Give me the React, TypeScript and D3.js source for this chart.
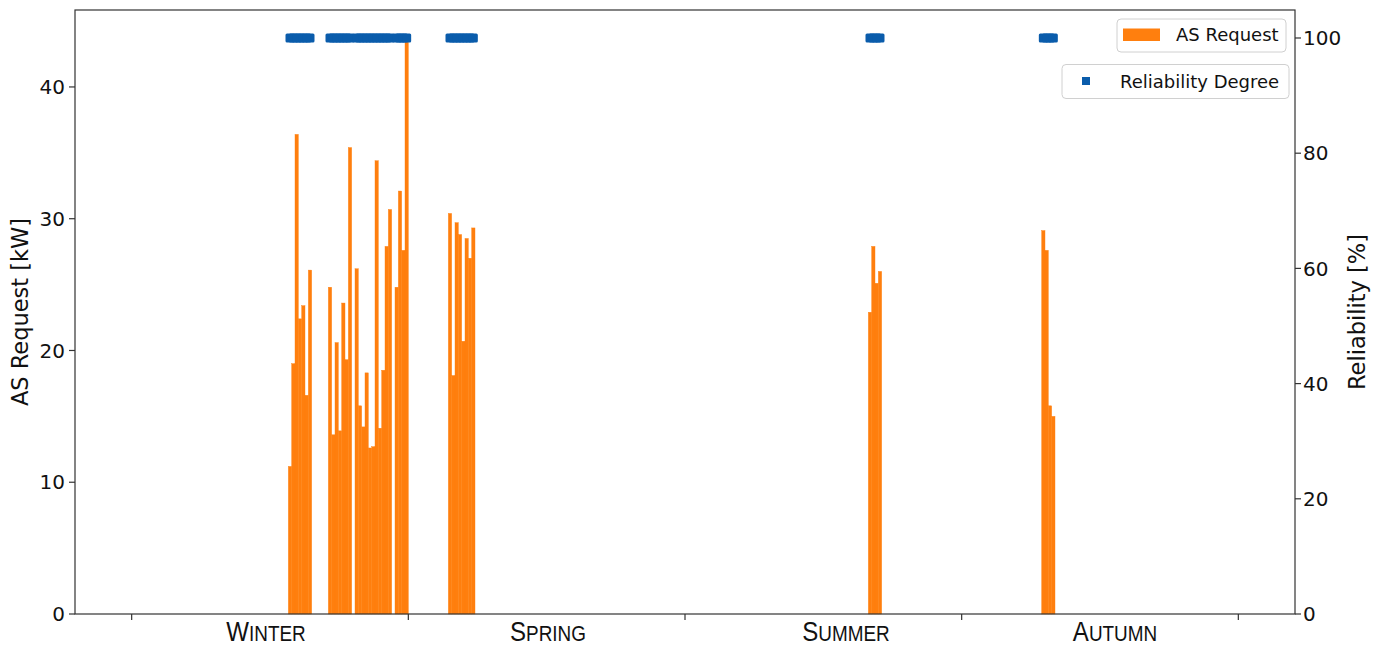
import React, { useEffect, useRef } from 'react';
import * as d3 from 'd3';

// x axis is day of year, bars are one day wide
const winterDays = [64, 65, 66, 67, 68, 69, 70, 76, 77, 78, 79, 80, 81, 82, 84, 85, 86, 87, 88, 89, 90, 91, 92, 93, 94, 96, 97, 98, 99];
const winterKW = [11.2, 19.0, 36.4, 22.4, 23.4, 16.6, 26.1, 24.8, 13.6, 20.6, 13.9, 23.6, 19.3, 35.4, 26.2, 15.8, 14.2, 18.3, 12.6, 12.7, 34.4, 14.1, 18.5, 27.9, 30.7, 24.8, 32.1, 27.6, 43.5];
const springDays = [112, 113, 114, 115, 116, 117, 118, 119];
const springKW = [30.4, 18.1, 29.7, 28.8, 20.7, 28.5, 27.0, 29.3];
const summerDays = [238, 239, 240, 241];
const summerKW = [22.9, 27.9, 25.1, 26.0];
const autumnDays = [290, 291, 292, 293];
const autumnKW = [29.1, 27.6, 15.8, 15.0];

const winterRel = [100, 100, 100, 100, 100, 100, 100, 100, 100, 100, 100, 100, 100, 100, 100, 100, 100, 100, 100, 100, 100, 100, 100, 100, 100, 100, 100, 100, 100];
const springRel = [100, 100, 100, 100, 100, 100, 100, 100];
const summerRel = [100, 100, 100, 100];
const autumnRel = [100, 100, 100, 100];

const seasonTicks = [17, 100, 183, 266, 349];
const seasonNames = ['Winter', 'Spring', 'Summer', 'Autumn'];
const seasonLabelPos = [57.3, 141.9, 231.3, 312];
const leftTicks = [0, 10, 20, 30, 40];
const rightTicks = [0, 20, 40, 60, 80, 100];

const ORANGE = '#ff7f0e';
const BLUE = '#0a5cab';
const FONT = '"DejaVu Sans", sans-serif';

function App() {
  const ref = useRef<SVGSVGElement>(null);

  useEffect(() => {
    const svg = d3.select(ref.current);
    svg.selectAll('*').remove();

    const margin = { top: 10, right: 89, bottom: 33, left: 75 },
      W = 1384, H = 647,
      width = W - margin.left - margin.right,
      height = H - margin.top - margin.bottom;

    const x = d3.scaleLinear().domain([0, 366]).range([0, width]);
    const yL = d3.scaleLinear().domain([0, 45.84]).range([height, 0]);
    const yR = d3.scaleLinear().domain([0, 104.86]).range([height, 0]);

    const days = [...winterDays, ...springDays, ...summerDays, ...autumnDays];
    const kw = [...winterKW, ...springKW, ...summerKW, ...autumnKW];
    const rel = [...winterRel, ...springRel, ...summerRel, ...autumnRel];
    const bars = days.map((d, i) => ({ day: d, kw: kw[i], rel: rel[i] }));

    const g = svg.append('g').attr('transform', `translate(${margin.left},${margin.top})`);

    // bars
    g.append('g').selectAll('rect').data(bars).enter().append('rect')
      .attr('x', (d) => x(d.day))
      .attr('y', (d) => yL(d.kw))
      .attr('width', x(1) - x(0))
      .attr('height', (d) => height - yL(d.kw))
      .attr('fill', ORANGE)
      .attr('stroke', ORANGE)
      .attr('stroke-width', 0.4);

    // reliability markers
    const ms = 9;
    g.append('g').selectAll('rect').data(bars).enter().append('rect')
      .attr('x', (d) => x(d.day + 0.5) - ms / 2)
      .attr('y', (d) => yR(d.rel) - ms / 2)
      .attr('width', ms).attr('height', ms)
      .attr('rx', 1.5)
      .attr('fill', BLUE);

    // frame
    g.append('rect').attr('width', width).attr('height', height)
      .attr('fill', 'none').attr('stroke', '#333').attr('stroke-width', 1.2);

    // left axis
    const left = g.append('g');
    leftTicks.forEach((t) => {
      left.append('line').attr('x1', -6).attr('x2', 0).attr('y1', yL(t)).attr('y2', yL(t))
        .attr('stroke', '#333').attr('stroke-width', 1.2);
      left.append('text').attr('x', -10).attr('y', yL(t)).attr('dy', '0.36em')
        .attr('text-anchor', 'end').style('font', `20px ${FONT}`).attr('fill', '#111').text(t);
    });
    g.append('text')
      .attr('transform', `translate(${-47},${height / 2}) rotate(-90)`)
      .attr('text-anchor', 'middle').style('font', `22.5px ${FONT}`).attr('fill', '#111')
      .text('AS Request [kW]');

    // right axis
    const right = g.append('g').attr('transform', `translate(${width},0)`);
    rightTicks.forEach((t) => {
      right.append('line').attr('x1', 0).attr('x2', 6).attr('y1', yR(t)).attr('y2', yR(t))
        .attr('stroke', '#333').attr('stroke-width', 1.2);
      right.append('text').attr('x', 8).attr('y', yR(t)).attr('dy', '0.36em')
        .attr('text-anchor', 'start').style('font', `20px ${FONT}`).attr('fill', '#111').text(t);
    });
    g.append('text')
      .attr('transform', `translate(${width + 70},${height / 2}) rotate(-90)`)
      .attr('text-anchor', 'middle').style('font', `22.5px ${FONT}`).attr('fill', '#111')
      .text('Reliability [%]');

    // bottom axis: season boundaries + small caps labels (condensed)
    const bottom = g.append('g').attr('transform', `translate(0,${height})`);
    seasonTicks.forEach((t) => {
      bottom.append('line').attr('x1', x(t)).attr('x2', x(t)).attr('y1', 0).attr('y2', 6)
        .attr('stroke', '#333').attr('stroke-width', 1.2);
    });
    seasonNames.forEach((name, i) => {
      const txt = bottom.append('text')
        .attr('transform', `translate(${x(seasonLabelPos[i])},27) scale(0.86,1)`)
        .attr('text-anchor', 'middle')
        .style('font-family', '"Liberation Sans", sans-serif')
        .attr('fill', '#111');
      txt.append('tspan').style('font-size', '28px').text(name[0].toUpperCase());
      txt.append('tspan').style('font-size', '22px').text(name.slice(1).toUpperCase());
    });

    // legends (one per axis)
    const lg1 = svg.append('g');
    lg1.append('rect').attr('x', 1117).attr('y', 19).attr('width', 169).attr('height', 33)
      .attr('rx', 4).attr('fill', '#fff').attr('fill-opacity', 0.85).attr('stroke', '#d0d0d0');
    lg1.append('rect').attr('x', 1123).attr('y', 28.5).attr('width', 37).attr('height', 12.5).attr('fill', ORANGE);
    lg1.append('text').attr('x', 1176).attr('y', 41).style('font', `18px ${FONT}`).attr('fill', '#111').text('AS Request');

    const lg2 = svg.append('g');
    lg2.append('rect').attr('x', 1062).attr('y', 64.5).attr('width', 227).attr('height', 34)
      .attr('rx', 4).attr('fill', '#fff').attr('fill-opacity', 0.85).attr('stroke', '#d0d0d0');
    lg2.append('rect').attr('x', 1082).attr('y', 77).attr('width', 8).attr('height', 8).attr('fill', BLUE);
    lg2.append('text').attr('x', 1120).attr('y', 87.5).style('font', `18px ${FONT}`).attr('fill', '#111').text('Reliability Degree');
  }, []);

  return (
    <svg ref={ref} width={1384} height={647}
      style={{ position: 'absolute', left: 0, top: 0, background: '#fff', display: 'block' }} />
  );
}

export default App;
